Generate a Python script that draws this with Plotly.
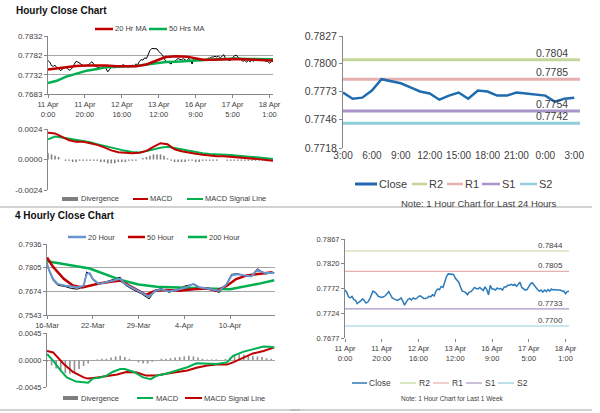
import plotly.graph_objects as go

W, H = 600, 413
FONT = "Liberation Sans"
TXT = "#404040"
AXC = "#868686"

def px(x):
    return x / W

def py(y):
    return 1 - y / H

# ---------------- DATA ----------------
# Hourly close, last week (11 Apr 0:00 -> 18 Apr ~3:00)
wk_close = [0.7769,0.7765,0.7756,0.7754,0.7757,0.7751,0.7749,0.7743,0.7746,0.7748,
            0.7752,0.7749,0.7744,0.7746,0.7751,0.7760,0.7767,0.7765,0.7762,0.7757,
            0.7756,0.7755,0.7756,0.7758,0.7762,0.7766,0.7760,0.7754,0.7752,0.7751,
            0.7749,0.7751,0.7754,0.7748,0.7740,0.7746,0.7751,0.7753,0.7750,0.7754,
            0.7752,0.7753,0.7757,0.7758,0.7755,0.7753,0.7753,0.7754,0.7757,0.7756,
            0.7760,0.7758,0.7767,0.7771,0.7770,0.7776,0.7774,0.7784,0.7795,0.7800,
            0.7800,0.7800,0.7799,0.7792,0.7788,0.7784,0.7775,0.7767,0.7766,0.7764,
            0.7760,0.7765,0.7766,0.7771,0.7774,0.7772,0.7771,0.7774,0.7771,0.7768,
            0.7775,0.7770,0.7760,0.7778,0.7771,0.7771,0.7769,0.7773,0.7771,0.7772,
            0.7769,0.7775,0.7775,0.7778,0.7778,0.7780,0.7778,0.7780,0.7776,0.7780,
            0.7784,0.7774,0.7771,0.7769,0.7770,0.7776,0.7781,0.7783,0.7778,0.7773,
            0.7770,0.7767,0.7769,0.7765,0.7769,0.7766,0.7770,0.7767,0.7771,0.7769,
            0.7770,0.7769,0.7769,0.7769,0.7767,0.7767,0.7762,0.7766,0.7767]
wk_idx = list(range(len(wk_close)))
wk_tick_idx = [0, 21, 42, 63, 84, 105, 126]
wk_tick_text = ["11 Apr<br>0:00", "11 Apr<br>20:00", "12 Apr<br>16:00", "13 Apr<br>12:00",
                "16 Apr<br>9:00", "17 Apr<br>5:00", "18 Apr<br>1:00"]

# Hourly MAs (top-left)
ma20_idx = [0,5,10,16,22,28,33,39,45,50,56,60,64,67,73,79,83,88,94,100,105,111,117,122,128]
ma20 = [0.7746,0.7749,0.7753,0.7755,0.7756,0.7756,0.7756,0.7754,0.7753,0.7754,0.7759,0.7767,
        0.7773,0.7778,0.7780,0.7779,0.7776,0.7771,0.7771,0.7772,0.7773,0.7772,0.7771,0.7771,0.7769]
ma50_idx = [0,5,10,16,22,28,33,39,45,50,56,62,67,73,79,84,90,96,102,107,113,119,124,128]
ma50 = [0.7711,0.7717,0.7727,0.7736,0.7743,0.7747,0.7752,0.7753,0.7754,0.7755,0.7759,0.7762,
        0.7765,0.7766,0.7768,0.7769,0.7771,0.7772,0.7773,0.7774,0.7773,0.7773,0.7772,0.7772]

# Hourly MACD (top-left)
h_macd_idx = list(range(0, 129, 4))
h_macd = [0.00211,0.00205,0.00178,0.00152,0.00140,0.00140,0.00128,0.00115,0.00095,0.00072,
          0.00057,0.00054,0.00050,0.00054,0.00068,0.00100,0.00128,0.00120,0.00080,0.00065,
          0.00058,0.00046,0.00038,0.00030,0.00026,0.00026,0.00022,0.00018,0.00012,0.00007,
          0.00003,-0.00004,-0.00010]
h_signal = [0.00158,0.00180,0.00174,0.00165,0.00155,0.00145,0.00136,0.00121,0.00107,0.00092,
            0.00078,0.00068,0.00060,0.00056,0.00066,0.00080,0.00092,0.00100,0.00089,0.00077,
            0.00066,0.00056,0.00049,0.00044,0.00042,0.00042,0.00035,0.00030,0.00027,0.00022,
            0.00016,0.00010,0.00003]
h_div_idx = list(range(0, 129, 2))
h_div = [0.0005,0.0004,0.0003,0.0002,0.0000,-0.0001,-0.0001,-0.0002,-0.0002,-0.0001,
         -0.0001,-0.0001,-0.0001,-0.0001,-0.0001,-0.0002,-0.0002,-0.0003,-0.0003,-0.0003,
         -0.0002,-0.0002,-0.0002,-0.0001,-0.0001,-0.0001,0.0000,0.0001,0.0002,0.0003,
         0.0004,0.0004,0.0004,0.0003,0.0001,-0.0001,-0.0002,-0.0002,-0.0002,-0.0002,
         -0.0001,-0.0001,-0.0002,-0.0002,-0.0001,-0.0001,-0.0001,-0.0001,-0.0001,0.0000,
         0.0000,-0.0001,-0.0001,-0.0001,-0.0001,-0.0001,-0.0001,-0.0001,-0.0001,-0.0001,
         -0.0001,-0.0001,-0.0001,-0.0001,-0.0001]

# Last 24 hours (top-right)
d24_labels = ["3:00","4:00","5:00","6:00","7:00","8:00","9:00","10:00","11:00","12:00",
              "13:00","14:00","15:00","16:00","17:00","18:00","19:00","20:00","21:00",
              "22:00","23:00","0:00","1:00","2:00","3:00"]
d24_close = [0.7772,0.7766,0.7767,0.7774,0.7785,0.7783,0.7781,0.7777,0.7773,0.7771,
             0.7765,0.7769,0.7772,0.7766,0.7774,0.7773,0.7769,0.7769,0.7772,0.7771,
             0.7770,0.7769,0.7763,0.7766,0.7767]
d24_levels = {"R2": 0.7804, "R1": 0.7785, "S1": 0.7754, "S2": 0.7742}
wk_levels = {"R2": 0.7844, "R1": 0.7805, "S1": 0.7733, "S2": 0.7700}

# 4-hourly chart (bottom-left)
q_tick_idx = [0, 30, 60, 90, 120]
q_tick_text = ["16-Mar", "22-Mar", "29-Mar", "4-Apr", "10-Apr"]
q20_idx = [0,1,4,7,12,16,20,24,26,28,30,34,39,44,48,51,56,62,67,71,75,80,85,91,96,100,107,113,118,121,125,130,134,138,143,149]
q20 = [0.7828,0.7799,0.7743,0.7715,0.7705,0.7700,0.7696,0.7705,0.7771,0.7775,0.7743,0.7715,
       0.7724,0.7737,0.7743,0.7715,0.7692,0.7668,0.7644,0.7677,0.7686,0.7673,0.7681,0.7696,
       0.7715,0.7696,0.7686,0.7677,0.7715,0.7762,0.7768,0.7762,0.7756,0.7793,0.7775,0.7775]
q_price = [0.7832,0.7795,0.7735,0.7708,0.7700,0.7690,0.7686,0.7700,0.7782,0.7768,0.7738,0.7712,
           0.7728,0.7740,0.7752,0.7710,0.7685,0.7660,0.7632,0.7680,0.7690,0.7668,0.7684,0.7705,
           0.7712,0.7690,0.7684,0.7668,0.7720,0.7768,0.7772,0.7758,0.7760,0.7799,0.7770,0.7778]
q50_idx = [0,4,11,17,23,28,35,43,48,56,65,71,78,87,96,105,111,118,124,131,139,148]
q50 = [0.7861,0.7809,0.7743,0.7706,0.7696,0.7706,0.7719,0.7728,0.7734,0.7696,0.7655,0.7677,
       0.7681,0.7677,0.7686,0.7690,0.7677,0.7705,0.7742,0.7762,0.7771,0.7780]
q200_idx = [0,28,49,60,72,90,110,120,130,140,149]
q200 = [0.7840,0.7800,0.7735,0.7712,0.7700,0.7693,0.7688,0.7686,0.7700,0.7718,0.7735]

# 4-hourly MACD (bottom-left)
q_macd_idx = [0,4,9,13,19,24,27,30,35,39,43,48,51,57,63,68,72,78,85,92,98,105,111,118,122,129,135,142,146,149]
q_macd = [0.0010,-0.0001,-0.00176,-0.0029,-0.0036,-0.0038,-0.0038,-0.0031,-0.0029,-0.0026,
          -0.0020,-0.0015,-0.0015,-0.0020,-0.0029,-0.0032,-0.0026,-0.0023,-0.00176,-0.0012,
          -0.00055,-0.00055,-0.00066,-0.0004,0.0007,0.0014,0.0018,0.00225,0.0022,0.0021]
q_sig_idx = [0,4,11,17,24,27,33,39,46,52,59,65,72,78,85,92,98,105,111,118,122,129,135,142,149]
q_sig = [0.0015,0.00126,-0.00066,-0.0020,-0.0029,-0.0031,-0.0029,-0.0027,-0.0024,-0.0020,
         -0.0021,-0.0026,-0.0026,-0.0023,-0.0020,-0.00176,-0.0013,-0.0009,-0.00077,-0.00077,
         -0.0004,0.0004,0.0011,0.0015,0.0021]
q_div_idx = list(range(0, 148, 3))
q_div = [-0.0003,-0.0009,-0.0014,-0.0018,-0.0022,-0.0023,-0.0020,-0.0015,-0.0010,-0.0006,
         -0.0001,0.0001,0.0002,0.0002,0.0004,0.0006,0.0007,0.0005,0.0002,-0.0001,
         -0.0004,-0.0006,-0.0006,-0.0003,0.0000,0.0002,0.0002,0.0003,0.0004,0.0005,
         0.0006,0.0007,0.0006,0.0004,0.0002,0.0001,0.0001,0.0001,0.0000,0.0002,
         0.0004,0.0007,0.0009,0.0009,0.0008,0.0007,0.0006,0.0005,0.0003,0.0002]

# ---------------- COLOURS ----------------
RED = "#C00000"
GREEN = "#00B050"
BLUE4 = "#6795CF"
GRAYBAR = "#7F7F7F"
CLOSE_BLUE = "#1F6BB0"
LVL_COL = {"R2": "#C3D69B", "R1": "#E6B0B0", "S1": "#A995C9", "S2": "#92CDDC"}

fig = go.Figure()

def line(x, y, color, width, xa, ya):
    fig.add_trace(go.Scatter(x=x, y=y, mode="lines", line=dict(color=color, width=width),
                             xaxis=xa, yaxis=ya, showlegend=False, hoverinfo="skip"))

# Top-left hourly price
line(wk_idx, wk_close, "#000000", 1, "x", "y")
line(ma50_idx, ma50, GREEN, 2.5, "x", "y")
line(ma20_idx, ma20, RED, 2.5, "x", "y")
# Top-left MACD
fig.add_trace(go.Bar(x=h_div_idx, y=h_div, width=0.9, marker=dict(color=GRAYBAR, line=dict(width=0)),
                     xaxis="x2", yaxis="y2", showlegend=False, hoverinfo="skip"))
line(h_macd_idx, h_signal, GREEN, 2, "x2", "y2")
line(h_macd_idx, h_macd, RED, 2, "x2", "y2")

# Top-right 24h
d24_idx = list(range(len(d24_close)))
for k in ["R2", "R1", "S1", "S2"]:
    line([0, 24.6], [d24_levels[k]] * 2, LVL_COL[k], 3, "x3", "y3")
line(d24_idx, d24_close, CLOSE_BLUE, 2.5, "x3", "y3")

# Bottom-left 4 hourly
line(q20_idx, q_price, "#000000", 1, "x4", "y4")
line(q200_idx, q200, GREEN, 2.5, "x4", "y4")
line(q50_idx, q50, RED, 2.5, "x4", "y4")
line(q20_idx, q20, BLUE4, 2, "x4", "y4")
# Bottom-left MACD
fig.add_trace(go.Bar(x=q_div_idx, y=q_div, width=1.1, marker=dict(color="#959595", line=dict(width=0)),
                     xaxis="x5", yaxis="y5", showlegend=False, hoverinfo="skip"))
line(q_sig_idx, q_sig, RED, 2, "x5", "y5")
line(q_macd_idx, q_macd, GREEN, 2, "x5", "y5")

# Bottom-right weekly
for k in ["R2", "R1", "S1", "S2"]:
    line([0, 128], [wk_levels[k]] * 2, LVL_COL[k], 1.2, "x6", "y6")
line(wk_idx, wk_close, "#2B7BBA", 1.5, "x6", "y6")

# ---------------- AXES ----------------
def xax(x0, x1, y_anchor, rng, tv=None, tt=None, size=7.5, showline=True, ticks="outside"):
    d = dict(domain=[px(x0), px(x1)], anchor=y_anchor, range=rng, showgrid=False, zeroline=False,
             showline=showline, linecolor=AXC, linewidth=1, ticks=ticks, ticklen=3, tickcolor=AXC,
             tickangle=0, automargin=False,
             tickfont=dict(family=FONT, size=size, color=TXT), fixedrange=True)
    if tv is None:
        d.update(showticklabels=False, tickvals=[])
    else:
        d.update(tickmode="array", tickvals=tv, ticktext=tt)
    return d

def yax(y0, y1, x_anchor, rng, tv, fmt, size=8, grid=True):
    return dict(domain=[py(y1), py(y0)], anchor=x_anchor, range=rng, showgrid=grid, gridcolor="#A6A6A6",
                gridwidth=1, zeroline=False, showline=True, linecolor=AXC, linewidth=1, ticks="outside",
                ticklen=3, tickcolor=AXC, tickmode="array", tickvals=tv, ticktext=[fmt.format(v) for v in tv],
                automargin=False,
                tickfont=dict(family=FONT, size=size, color=TXT), fixedrange=True)

layout_axes = dict(
    xaxis=xax(48, 273, "y", [0, 128], wk_tick_idx, wk_tick_text, 7.5),
    yaxis=yax(36, 94, "x", [0.7683, 0.7832], [0.7683, 0.7732, 0.7782, 0.7832], "{:.4f}", 8),
    xaxis2=xax(48, 273, "y2", [0, 128], showline=False, ticks=""),
    yaxis2=yax(129, 190, "x2", [-0.0024, 0.0024], [-0.0024, 0.0, 0.0024], "{:.4f}", 8, grid=False),
    xaxis3=xax(343, 580, "y3", [0, 24.6], list(range(0, 25, 3)), d24_labels[::3], 10,
               showline=False, ticks=""),
    yaxis3=yax(36, 148, "x3", [0.7718, 0.7827], [0.7718, 0.7746, 0.7773, 0.7800, 0.7827], "{:.4f}",
               10.5, grid=False),
    xaxis4=xax(47, 275, "y4", [0, 149.5], q_tick_idx, q_tick_text, 7.5),
    yaxis4=yax(244, 315, "x4", [0.7543, 0.7936], [0.7543, 0.7674, 0.7805, 0.7936], "{:.4f}", 7.5),
    xaxis5=xax(47, 275, "y5", [0, 149.5], showline=False, ticks=""),
    yaxis5=yax(333, 387, "x5", [-0.0045, 0.0045], [-0.0045, 0.0, 0.0045], "{:.4f}", 7.5),
    xaxis6=xax(345, 569, "y6", [0, 128], wk_tick_idx, wk_tick_text, 7.5, showline=False),
    yaxis6=yax(239, 338, "x6", [0.7677, 0.7867], [0.7677, 0.7724, 0.7772, 0.7820, 0.7867], "{:.4f}",
               7.5, grid=False),
)

shapes = []
annotations = []

def seg(x0, x1, y, color, width):
    shapes.append(dict(type="line", xref="paper", yref="paper", x0=px(x0), x1=px(x1), y0=py(y), y1=py(y),
                       line=dict(color=color, width=width)))

def box(x0, x1, y0, y1, color):
    shapes.append(dict(type="rect", xref="paper", yref="paper", x0=px(x0), x1=px(x1), y0=py(y1), y1=py(y0),
                       fillcolor=color, line=dict(width=0)))

def txt(x, y, s, size, anchor="left", color=TXT, bold=False):
    annotations.append(dict(xref="paper", yref="paper", x=px(x), y=py(y), text=f"<b>{s}</b>" if bold else s,
                            showarrow=False, xanchor=anchor, yanchor="middle",
                            font=dict(family=FONT, size=size, color=color)))

def lvl_label(val, xr, ya, size):
    annotations.append(dict(xref="paper", yref=ya, x=px(xr), y=val, text=f"{val:.4f}", showarrow=False,
                            xanchor="right", yanchor="bottom", yshift=-1,
                            font=dict(family=FONT, size=size, color=TXT)))

# Titles
txt(14, 10, "Hourly Close Chart", 10, color="#111111", bold=True)
txt(13, 215, "4 Hourly Close Chart", 10, color="#111111", bold=True)

# Top-left legend
seg(95, 113, 29, RED, 2.5); txt(113, 29, "20 Hr MA", 7.5)
seg(149, 167, 29, GREEN, 2.5); txt(167, 29, "50 Hrs MA", 7.5)
# Top-left MACD legend
box(62, 78, 197, 201, GRAYBAR); txt(79, 199, "Divergence", 7.5)
seg(133, 148, 199, RED, 2); txt(148, 199, "MACD", 7.5)
seg(187, 203, 199, GREEN, 2); txt(203, 199, "MACD Signal Line", 7.5)

# Top-right legend & labels
seg(355, 377, 184, CLOSE_BLUE, 3); txt(377, 184, "Close", 11)
legx = {"R2": (412, 427), "R1": (447, 463), "S1": (482, 500), "S2": (520, 537)}
for k, (a, b) in legx.items():
    seg(a, b, 184, LVL_COL[k], 2.5); txt(b, 184, k, 11)
for k in ["R2", "R1", "S1", "S2"]:
    lvl_label(d24_levels[k], 570, "y3", 10.5)
txt(478, 203, "Note: 1 Hour Chart for Last 24 Hours", 9.5, anchor="center")

# Bottom-left legends
seg(68, 86, 237, BLUE4, 2.5); txt(86, 237, "20 Hour", 7.5)
seg(128, 145, 237, RED, 2.5); txt(145, 237, "50 Hour", 7.5)
seg(188, 207, 237, GREEN, 2.5); txt(207, 237, "200 Hour", 7.5)
box(63, 78, 396, 400, GRAYBAR); txt(79, 398, "Divergence", 7.5)
seg(137, 153, 398, GREEN, 2); txt(154, 398, "MACD", 7.5)
seg(185, 202, 398, RED, 2); txt(202, 398, "MACD Signal Line", 7.5)

# Bottom-right legend & labels
seg(352, 367, 383, "#2B7BBA", 1.5); txt(367, 383, "Close", 8.5)
legx2 = {"R2": (400, 416), "R1": (433, 449), "S1": (466, 482), "S2": (498, 514)}
for k, (a, b) in legx2.items():
    seg(a, b, 383, LVL_COL[k], 1.2); txt(b + 1, 383, k, 8.5)
for k in ["R2", "R1", "S1", "S2"]:
    lvl_label(wk_levels[k], 565, "y6", 8)
txt(452, 398, "Note: 1 Hour Chart for Last 1 Week", 6.5, anchor="center")

# Separators
seg(0, 592, 207, "#A6A6A6", 1)
seg(0, 300, 410, "#A6A6A6", 1)
seg(290, 592, 410, "#A6A6A6", 1)

fig.update_layout(width=W, height=H, margin=dict(l=0, r=0, t=0, b=0), paper_bgcolor="white",
                  plot_bgcolor="white", showlegend=False, shapes=shapes, annotations=annotations,
                  barmode="overlay", hovermode=False, **layout_axes)
fig.write_html("out.html", config={"displayModeBar": False, "staticPlot": True},
               post_script="document.body.style.margin='0';document.body.style.overflow='hidden';")
